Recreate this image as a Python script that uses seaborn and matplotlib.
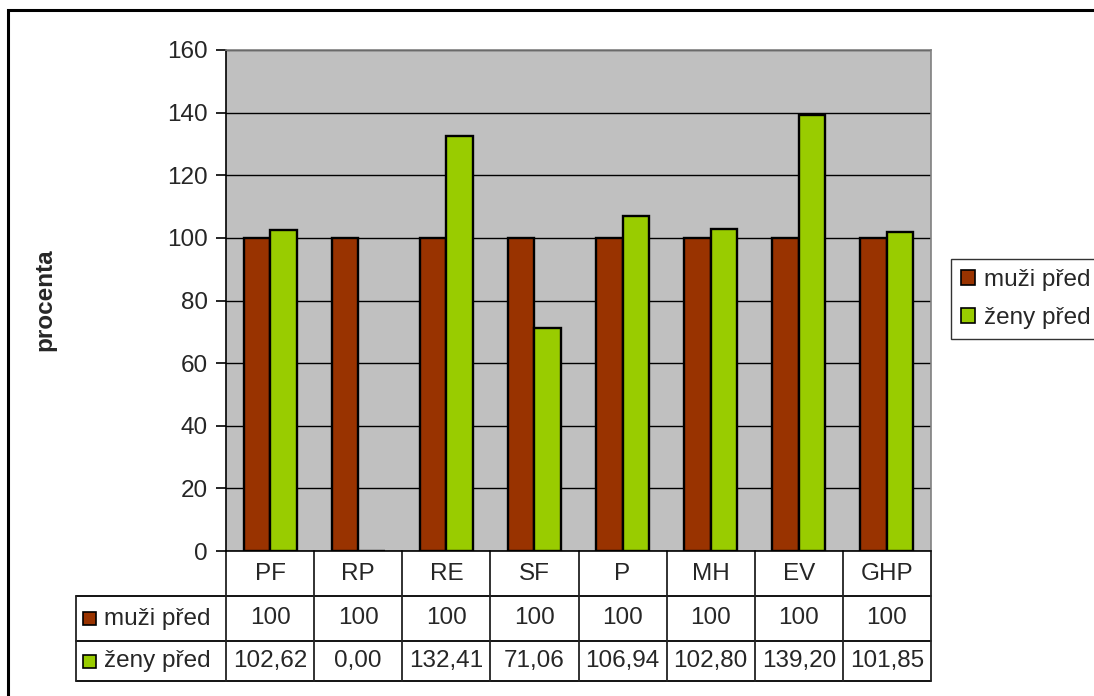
import matplotlib
matplotlib.use("Agg")
import matplotlib.pyplot as plt
from matplotlib.patches import Rectangle
from matplotlib.lines import Line2D
from matplotlib.transforms import blended_transform_factory
import pandas as pd
import seaborn as sns

categories = ["PF", "RP", "RE", "SF", "P", "MH", "EV", "GHP"]
series_names = ["muži před", "ženy před"]
muzi_pred = [100, 100, 100, 100, 100, 100, 100, 100]
zeny_pred = [102.62, 0.00, 132.41, 71.06, 106.94, 102.80, 139.20, 101.85]
series_colors = ["#993300", "#99CC00"]
y_ticks = [0, 20, 40, 60, 80, 100, 120, 140, 160]

sns.set_theme(style="white")
plt.rcParams["font.family"] = ["Liberation Sans", "DejaVu Sans"]
FS = 17.5

W, H = 1094, 696
fig = plt.figure(figsize=(W / 100, H / 100), dpi=100)

# plot area in pixels
L, R, T, B = 226, 931, 50, 551
ax = fig.add_axes([L / W, 1 - B / H, (R - L) / W, (B - T) / H])
ax.set_facecolor("#C0C0C0")

df = pd.DataFrame({
    "kategorie": categories * 2,
    "hodnota": muzi_pred + zeny_pred,
    "serie": [series_names[0]] * len(categories) + [series_names[1]] * len(categories),
})
sns.barplot(data=df, x="kategorie", y="hodnota", hue="serie", order=categories,
            hue_order=series_names, palette=series_colors, width=0.6, gap=0,
            edgecolor="black", linewidth=1.7, saturation=1, ax=ax, zorder=3)
if ax.get_legend() is not None:
    ax.get_legend().remove()

ax.set_ylim(0, 160)
ax.set_xlim(-0.5, len(categories) - 0.5)
ax.set_yticks(y_ticks)
ax.set_yticklabels([str(v) for v in y_ticks], fontsize=FS)
ax.set_xticks([])
ax.set_xlabel("")
ax.set_ylabel("")
ax.yaxis.grid(True, color="black", linewidth=1.0, zorder=1)
ax.set_axisbelow(True)
ax.tick_params(axis="y", which="major", left=True, length=7, width=1.2,
               color="black", pad=6)
for side in ["top", "right"]:
    ax.spines[side].set_color("#808080")
    ax.spines[side].set_linewidth(1.2)
for side in ["left", "bottom"]:
    ax.spines[side].set_color("black")
    ax.spines[side].set_linewidth(1.2)

fig.text(45 / W, 1 - 300 / H, "procenta", rotation=90, fontsize=FS,
         fontweight="bold", ha="center", va="center")

# data table below the plot
def fx(px):
    return (px - L) / (R - L)

def fy(py):
    return (B - py) / (B - T)

tr = blended_transform_factory(ax.transData, ax.transAxes)
row_lines = [551, 596, 641, 681]
line_kw = dict(color="black", linewidth=1.3, clip_on=False)
for py in row_lines[1:]:
    ax.add_line(Line2D([fx(76), 1], [fy(py), fy(py)], transform=ax.transAxes, **line_kw))
for i in range(len(categories) + 1):
    xb = i - 0.5
    ax.add_line(Line2D([xb, xb], [fy(551), fy(681)], transform=tr,
                       color="#222222", linewidth=1.3, clip_on=False))
ax.add_line(Line2D([fx(76), fx(76)], [fy(596), fy(681)], transform=ax.transAxes,
                   color="#222222", linewidth=1.3, clip_on=False))

row_centers = [(596 + 641) / 2, (641 + 681) / 2]
for i, cat in enumerate(categories):
    ax.text(i, fy(574), cat, transform=tr, ha="center", va="center", fontsize=FS)
    ax.text(i, fy(row_centers[0]), f"{muzi_pred[i]:.0f}", transform=tr,
            ha="center", va="center", fontsize=FS)
    ax.text(i, fy(row_centers[1]), f"{zeny_pred[i]:.2f}".replace(".", ","),
            transform=tr, ha="center", va="center", fontsize=FS)

for name, col, cy in zip(series_names, series_colors, row_centers):
    ax.add_patch(Rectangle((fx(83), fy(cy + 6.5)), fx(96) - fx(83), fy(cy - 6.5) - fy(cy + 6.5),
                           transform=ax.transAxes, facecolor=col, edgecolor="black",
                           linewidth=1.2, clip_on=False))
    ax.text(fx(104), fy(cy), name, transform=ax.transAxes, ha="left", va="center",
            fontsize=FS)

# legend at the right
handles = [Rectangle((0, 0), 1, 1, facecolor=c, edgecolor="black", linewidth=1.2)
           for c in series_colors]
leg = fig.legend(handles, series_names, loc="upper left",
                 bbox_to_anchor=(951 / W, 1 - 259 / H), fontsize=FS, frameon=True,
                 fancybox=False, edgecolor="black", handlelength=0.55,
                 handleheight=0.55, handletextpad=0.4, labelspacing=0.65,
                 borderpad=0.42, borderaxespad=0)
leg.get_frame().set_linewidth(1.0)

# outer chart border
fig.add_artist(Rectangle((8 / W, -0.1), 1.2, 1 - 10 / H + 0.1, transform=fig.transFigure,
                         fill=False, edgecolor="black", linewidth=2.2))

fig.savefig("out.png", dpi=100)
